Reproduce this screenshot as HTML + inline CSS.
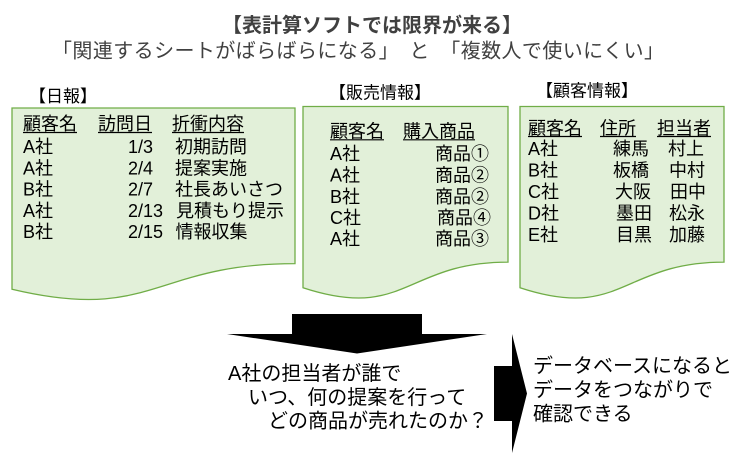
<!DOCTYPE html>
<html>
<head>
<meta charset="utf-8">
<style>
  html, body { margin:0; padding:0; background:#ffffff; }
  body { width:749px; height:465px; overflow:hidden; }
  svg { display:block; }
  text { font-family: "Liberation Sans", "Noto Sans CJK JP", sans-serif; }
</style>
</head>
<body>
<svg width="749" height="465" viewBox="0 0 749 465" xmlns="http://www.w3.org/2000/svg">
  <rect x="0" y="0" width="749" height="465" fill="#ffffff"/>

  <!-- Title -->
  <text x="372" y="32" font-size="20" font-weight="bold" fill="#404040" text-anchor="middle">【表計算ソフトでは限界が来る】</text>
  <text x="52" y="57.5" font-size="20" fill="#404040" textLength="612" lengthAdjust="spacing">「関連するシートがばらばらになる」　と　「複数人で使いにくい」</text>

  <!-- Labels -->
  <text x="29" y="102" font-size="17" fill="#000">【日報】</text>
  <text x="329" y="98.5" font-size="17" fill="#000">【販売情報】</text>
  <text x="536" y="96.5" font-size="17" fill="#000">【顧客情報】</text>

  <!-- Document shapes -->
  <path d="M12,108 H295 V263.6 C153.5,263.6 153.5,322.8 12,289.2 Z" fill="#e2f0d9" stroke="#70ad47" stroke-width="1.3"/>
  <path d="M303,106.5 H508 V262.1 C405.5,262.1 405.5,321.3 303,287.7 Z" fill="#e2f0d9" stroke="#70ad47" stroke-width="1.3"/>
  <path d="M520,106.5 H724 V262.1 C622,262.1 622,321.3 520,287.7 Z" fill="#e2f0d9" stroke="#70ad47" stroke-width="1.3"/>

  <!-- 日報 contents -->
  <g font-size="18" fill="#000">
    <text x="23" y="130">顧客名</text>
    <text x="98" y="130">訪問日</text>
    <text x="172" y="130">折衝内容</text>
    <text x="23" y="153">A社</text><text x="128" y="153">1/3</text><text x="175" y="153">初期訪問</text>
    <text x="23" y="174.3">A社</text><text x="128" y="174.3">2/4</text><text x="175" y="174.3">提案実施</text>
    <text x="23" y="195.6">B社</text><text x="128" y="195.6">2/7</text><text x="175" y="195.6">社長あいさつ</text>
    <text x="23" y="217">A社</text><text x="128" y="217">2/13</text><text x="176" y="217">見積もり提示</text>
    <text x="23" y="238">B社</text><text x="128" y="238">2/15</text><text x="175.5" y="238">情報収集</text>
  </g>
  <g stroke="#000" stroke-width="1.2">
    <line x1="23" y1="132.5" x2="77" y2="132.5"/>
    <line x1="98" y1="132.5" x2="152" y2="132.5"/>
    <line x1="172" y1="132.5" x2="244" y2="132.5"/>
  </g>

  <!-- 販売情報 contents -->
  <g font-size="18" fill="#000">
    <text x="330" y="137.5">顧客名</text>
    <text x="403" y="137.5">購入商品</text>
    <text x="330" y="160">A社</text><text x="435" y="160">商品①</text>
    <text x="330" y="181.5">A社</text><text x="435" y="181.5">商品②</text>
    <text x="330" y="203">B社</text><text x="435" y="203">商品②</text>
    <text x="330" y="224">C社</text><text x="437" y="224">商品④</text>
    <text x="330" y="245">A社</text><text x="435" y="245">商品③</text>
  </g>
  <g stroke="#000" stroke-width="1.2">
    <line x1="330" y1="139.8" x2="384" y2="139.8"/>
    <line x1="403" y1="139.8" x2="475" y2="139.8"/>
  </g>

  <!-- 顧客情報 contents -->
  <g font-size="18" fill="#000">
    <text x="528" y="134.5">顧客名</text>
    <text x="600" y="134.5">住所</text>
    <text x="657" y="134.5">担当者</text>
    <text x="528" y="155">A社</text><text x="613" y="155">練馬</text><text x="668" y="155">村上</text>
    <text x="528" y="176.5">B社</text><text x="613" y="176.5">板橋</text><text x="669" y="176.5">中村</text>
    <text x="528" y="198">C社</text><text x="615" y="198">大阪</text><text x="670" y="198">田中</text>
    <text x="528" y="219.5">D社</text><text x="616" y="219.5">墨田</text><text x="669" y="219.5">松永</text>
    <text x="528" y="241">E社</text><text x="616" y="241">目黒</text><text x="669" y="241">加藤</text>
  </g>
  <g stroke="#000" stroke-width="1.2">
    <line x1="528" y1="136.5" x2="582" y2="136.5"/>
    <line x1="600" y1="136.5" x2="636" y2="136.5"/>
    <line x1="657" y1="136.5" x2="711" y2="136.5"/>
  </g>

  <!-- Down arrow -->
  <polygon points="292,314 422,314 422,334 487,334 357,353.5 227,334 292,334" fill="#000"/>

  <!-- Right arrow -->
  <polygon points="494,366 512,366 512,334 527,393.5 512,453 512,421 494,421" fill="#000"/>

  <!-- Bottom question text -->
  <g font-size="20" fill="#000">
    <text x="228" y="380">A社の担当者が誰で</text>
    <text x="248" y="404">いつ、何の提案を行って</text>
    <text x="268" y="427.5">どの商品が売れたのか？</text>
  </g>

  <!-- Right conclusion text -->
  <g font-size="20" fill="#000">
    <text x="533" y="372.5">データベースになると</text>
    <text x="533" y="396.5">データをつながりで</text>
    <text x="533" y="420.5">確認できる</text>
  </g>
</svg>
</body>
</html>
